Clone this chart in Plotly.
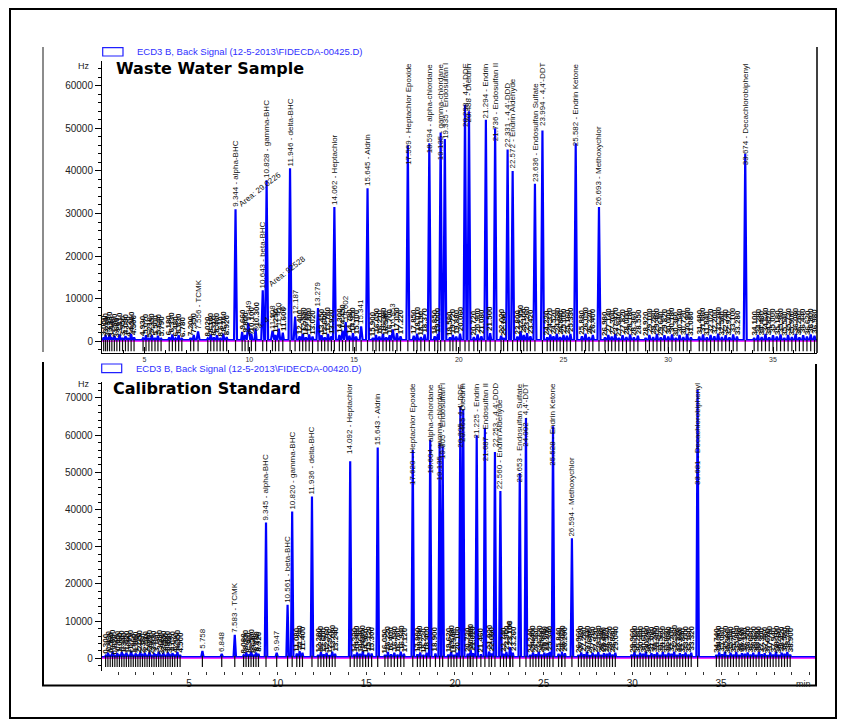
import plotly.graph_objects as go

W, H = 843, 723
FONT = "Liberation Sans, Arial, sans-serif"

# ---------------- Waste Water Sample (top) ----------------
ww_main_t = [7.556, 9.344, 9.949, 10.643, 10.828, 11.108, 11.410, 11.946, 12.187, 13.279,
             14.062, 14.602, 15.341, 15.645, 16.853, 17.569, 18.594, 19.135, 19.335, 20.298,
             20.488, 21.294, 21.736, 22.331, 22.572, 23.636, 23.994, 25.582, 26.693, 33.674]
ww_main_h = [2300, 31000, 4300, 12000, 37800, 2500, 3000, 40600, 5800, 7800,
             31500, 4500, 3500, 35900, 2800, 46000, 46500, 49000, 47500, 55500,
             54000, 52000, 50000, 45000, 40000, 37000, 49500, 46500, 31500, 44000]
ww_main_name = ["TCMK", "alpha-BHC", "", "beta-BHC", "gamma-BHC", "", "", "delta-BHC", "", "",
                "Heptachlor", "", "", "Aldrin", "", "Heptachlor Epoxide", "alpha-chlordane",
                "gamma-chlordane", "Endosulfan I", "4,4'-DDE",
                "Dieldrin", "Endrin", "Endosulfan II", "4,4'-DDD", "Endrin Aldehyde",
                "Endosulfan Sulfate", "4,4'-DDT", "Endrin Ketone", "Methoxychlor", "Decachlorobiphenyl"]

ww_small_t = [3.05, 3.14, 3.23, 3.33, 3.44, 3.56, 3.68, 3.81, 3.95, 4.09, 4.22, 4.36, 4.50,
              4.93, 5.07, 5.21, 5.35, 5.50, 5.64, 5.79,
              6.18, 6.33, 6.48, 6.63, 6.78,
              7.20, 7.35,
              8.02, 8.16, 8.31, 8.46, 8.61, 8.76, 8.92,
              9.66, 9.80, 10.10, 10.30,
              11.25, 11.60,
              12.40, 12.55, 12.70, 12.86, 13.02,
              13.45, 13.60, 13.76, 13.92,
              14.30, 14.45, 14.78, 14.95, 15.10,
              15.90, 16.05, 16.21, 16.38, 16.54, 16.70, 17.05, 17.22,
              17.85, 18.01, 18.19, 18.37,
              18.85, 19.00, 19.58, 19.72, 19.88, 20.06,
              20.72, 20.90, 21.08, 21.50, 22.02, 22.14,
              22.80, 22.95, 23.10, 23.26, 23.42,
              24.22, 24.37, 24.52, 24.68, 24.84, 25.00, 25.16, 25.33,
              25.88, 26.05, 26.22, 26.40,
              26.98, 27.14, 27.30, 27.47, 27.64, 27.82, 28.00, 28.18, 28.36, 28.55,
              28.92, 29.10, 29.28, 29.46, 29.64, 29.82, 30.00, 30.18, 30.36, 30.54, 30.72, 30.90, 31.08,
              31.48, 31.66, 31.84, 32.02, 32.20, 32.38, 32.56, 32.74, 32.92, 33.10, 33.28,
              34.10, 34.28, 34.46, 34.64, 34.82, 35.00, 35.18, 35.36, 35.54, 35.72, 35.90, 36.08,
              36.26, 36.44, 36.62, 36.80, 36.98]
ww_small_h = [900, 1500, 600, 1800, 700, 1300, 500, 1600, 800, 1200, 600, 1700, 900,
              700, 1400, 600, 1500, 800, 1300, 600,
              900, 1600, 700, 1400, 600,
              800, 1500,
              700, 1600, 900, 1400, 600, 1800, 1000,
              2200, 1500, 1800, 3000,
              1500, 2000,
              1200, 1800, 900, 1600, 1100,
              1400, 900, 1700, 1200,
              1500, 2500, 1300, 1900, 1100,
              800, 1500, 1100, 1800, 900, 1400, 1900, 1200,
              1300, 1800, 1000, 1600,
              1200, 1700, 900, 1500, 1100, 1800,
              1000, 1600, 1200, 1900, 1300, 800,
              1100, 2400, 1500, 1900, 1200,
              900, 1600, 1200, 1800, 1000, 1500, 1300, 1700,
              1200, 1800, 1000, 1500,
              900, 1500, 1100, 1700, 800, 1400, 1000, 1600, 900, 1300,
              800, 1500, 1000, 1700, 900, 1400, 1100, 1600, 800, 1500, 1000, 1700, 900,
              1100, 1600, 900, 1500, 1200, 1800, 1000, 1400, 900, 1600, 1100,
              800, 1500, 1000, 1700, 900, 1400, 1100, 1600, 800, 1500, 1000, 1700,
              900, 1400, 1100, 1600, 1300]

# ---------------- Calibration Standard (bottom) ----------------
cal_main_t = [5.758, 6.848, 7.583, 9.345, 9.947, 10.561, 10.820, 11.936, 14.092, 15.643,
              17.620, 18.604, 19.135, 19.305, 20.305, 20.465, 20.853, 21.225, 21.687, 22.253,
              22.560, 23.108, 23.653, 24.002, 25.528, 26.018, 26.594, 33.681]
cal_main_h = [2000, 1200, 6300, 36500, 1500, 14400, 39500, 43500, 53000, 56700,
              56000, 58800, 57900, 57000, 67800, 67000, 1500, 60000, 62000, 55500,
              45000, 3000, 49800, 64600, 62400, 1200, 32300, 72300]
cal_main_name = ["", "", "TCMK", "alpha-BHC", "", "beta-BHC", "gamma-BHC", "delta-BHC",
                 "Heptachlor", "Aldrin", "Heptachlor Epoxide", "alpha-chlordane",
                 "gamma-chlordane", "Endosulfan I", "4,4'-DDE", "Dieldrin", "", "Endrin",
                 "Endosulfan II", "4,4'-DDD", "Endrin Aldehyde", "", "Endosulfan Sulfate",
                 "4,4'-DDT", "Endrin Ketone", "", "Methoxychlor", "Decachlorobiphenyl"]

cal_small_t = [0.30, 0.43, 0.56, 0.69, 0.82, 0.95, 1.08, 1.21, 1.34, 1.47, 1.60, 1.73, 1.86, 1.99, 2.12, 2.25,
               2.38, 2.51, 2.64, 2.77, 2.90, 3.03, 3.16, 3.29, 3.42, 3.55, 3.68, 3.81, 3.94, 4.07, 4.20, 4.35, 4.50,
               8.08, 8.22, 8.36, 8.50, 8.64, 8.78, 8.92,
               11.08, 11.24, 11.40,
               12.28, 12.44, 12.60, 12.76, 12.92, 13.08, 13.24,
               14.32, 14.48, 14.64, 14.80, 14.96, 15.12, 15.30,
               16.05, 16.22, 16.40, 16.58, 16.76, 16.94, 17.12,
               17.88, 18.04, 18.22, 18.40, 18.90,
               19.62, 19.78, 19.94, 20.10, 20.72, 20.88, 21.02, 21.46, 21.92, 22.06,
               22.74, 22.90, 23.10, 23.26,
               24.24, 24.40, 24.56, 24.72, 24.88, 25.04, 25.20, 25.34,
               25.84, 26.02, 26.20,
               26.96, 27.12, 27.28, 27.44, 27.60, 27.76, 27.92, 28.08, 28.24, 28.40, 28.56, 28.72, 28.88, 29.04,
               29.96, 30.12, 30.28, 30.44, 30.60, 30.76, 30.92, 31.08, 31.24, 31.40, 31.56, 31.72, 31.88,
               32.04, 32.20, 32.36, 32.52, 32.68, 32.84, 33.00, 33.16, 33.32,
               34.74, 34.90, 35.06, 35.22, 35.38, 35.54, 35.70, 35.86, 36.02, 36.18, 36.34, 36.50, 36.66,
               36.82, 36.98, 37.14, 37.30, 37.46, 37.62, 37.78, 37.94, 38.10, 38.26, 38.42, 38.58, 38.74, 38.90]
cal_small_h = [700, 1500, 900, 1800, 600, 1400, 1000, 1700, 800, 1500, 900, 1900, 700, 1300, 1000, 1600,
               800, 1500, 900, 1700, 600, 1400, 1100, 1800, 700, 1500, 900, 1600, 800, 1400, 1000, 1700, 900,
               800, 1600, 1000, 1800, 900, 1500, 1200,
               1300, 1900, 1500,
               900, 1700, 1100, 1500, 800, 1800, 1200,
               1000, 1600, 1200, 1900, 900, 1500, 1300,
               900, 1700, 1100, 1500, 1000, 1800, 1200,
               1100, 1600, 900, 1500, 1300,
               1000, 1700, 900, 1500, 1200, 2200, 1400, 1100, 1800, 1300,
               1200, 1700, 3000, 1500,
               900, 1600, 1100, 1800, 1000, 1500, 1300, 1700,
               1200, 1800, 1400,
               900, 1600, 1100, 1800, 800, 1500, 1000, 1700, 900, 1400, 1200, 1600, 1000, 1500,
               1000, 1700, 900, 1500, 1200, 1800, 800, 1400, 1100, 1600, 900, 1700, 1000,
               1500, 1200, 1800, 900, 1400, 1100, 1600, 1000, 1500,
               900, 1600, 1100, 1800, 800, 1500, 1000, 1700, 900, 1400, 1200, 1600, 1000,
               1500, 900, 1700, 1100, 1400, 800, 1600, 1000, 1800, 900, 1500, 1200, 1700, 1000]

x_tick_labels = [5, 10, 15, 20, 25, 30, 35]

legend_top = "ECD3 B, Back Signal (12-5-2013\\FIDECDA-00425.D)"
legend_bot = "ECD3 B, Back Signal (12-5-2013\\FIDECDA-00420.D)"

# ---------------- geometry (pixels) ----------------
TOP_X0, TOP_X1, TOP_Y0, TOP_Y1 = 102, 817, 61, 352.7
BOT_X0, BOT_X1, BOT_Y0, BOT_Y1 = 101.7, 815, 382, 670.7
TOP_XR = [2.97, 37.1]
TOP_YR = [-2676, 65800]
BOT_XR = [0.08, 40.3]
BOT_YR = [-3330, 74300]


def px(x):
    return x / W


def py(y):
    return 1 - y / H


def signal(main_t, main_h, small_t, small_h, xr, base):
    peaks = sorted([(t, h, 0.07) for t, h in zip(main_t, main_h)] +
                   [(t, h, 0.05) for t, h in zip(small_t, small_h)])
    xs, ys = [xr[0]], [base]
    prev = xr[0]
    for t, h, w in peaks:
        left = max(t - w, prev)
        xs += [left, t, t + w]
        ys += [base, h, base]
        prev = t + w
    xs.append(xr[1])
    ys.append(base)
    return xs, ys


fig = go.Figure()
anns = []


def panel(main_t, main_h, names, small_t, small_h, xr, yr, xa, ya, upx, ylim, tickdy):
    xs, ys = signal(main_t, main_h, small_t, small_h, xr, 300)
    fig.add_trace(go.Scatter(x=xs, y=ys, mode="lines", xaxis=xa, yaxis=ya,
                             line=dict(color="#0000ff", width=2.2), hoverinfo="skip"))
    fig.add_trace(go.Scatter(x=[xr[0], xr[1]], y=[0, 0], mode="lines", xaxis=xa, yaxis=ya,
                             line=dict(color="#ff33ff", width=1.6), hoverinfo="skip"))
    allt = list(small_t) + list(main_t)
    fig.add_trace(go.Scatter(x=allt, y=[tickdy] * len(allt), mode="markers", xaxis=xa, yaxis=ya,
                             marker=dict(symbol="line-ns", size=8,
                                         line=dict(width=1.2, color="#111")),
                             hoverinfo="skip"))
    for t, h in zip(small_t, small_h):
        anns.append(dict(x=t, y=h + upx, xref=xa, yref=ya, text=f"<b>{t:.3f}</b>",
                         textangle=-90, showarrow=False, xanchor="center", yanchor="bottom",
                         borderpad=0, font=dict(size=8, color="#111", family=FONT)))
    for t, h, n in zip(main_t, main_h, names):
        txt = f"{t:.3f} - {n}" if n else f"{t:.3f}"
        L = (len(txt) * 4.1 + 2) * upx
        if h + L > ylim:
            yv, yan = ylim, "top"
        else:
            yv, yan = h + upx, "bottom"
        anns.append(dict(x=t, y=yv, xref=xa, yref=ya, text=txt, textangle=-90,
                         showarrow=False, xanchor="center", yanchor=yan, borderpad=0,
                         font=dict(size=8, color="#111", family=FONT)))


upx_top = (TOP_YR[1] - TOP_YR[0]) / (TOP_Y1 - TOP_Y0)
upx_bot = (BOT_YR[1] - BOT_YR[0]) / (BOT_Y1 - BOT_Y0)
panel(ww_main_t, ww_main_h, ww_main_name, ww_small_t, ww_small_h, TOP_XR, TOP_YR,
      "x", "y", upx_top, TOP_YR[1] - 1 * upx_top, -1000)
panel(cal_main_t, cal_main_h, cal_main_name, cal_small_t, cal_small_h, BOT_XR, BOT_YR,
      "x2", "y2", upx_bot, BOT_YR[1] - 0.3 * upx_bot, -800)

tickfont = dict(size=10, color="#222", family=FONT)

# diagonal area annotations (top panel)
for txt, cx, cy in [("Area: 29.0226", 260, 190), ("Area: 92528", 287, 271), ("Area: 4.4105", 266, 320)]:
    anns.append(dict(x=px(cx), y=py(cy), xref="paper", yref="paper", text=txt, textangle=-38,
                     showarrow=False, xanchor="center", yanchor="middle",
                     font=dict(size=8, color="#111", family=FONT)))

# titles, Hz, legends, min
anns += [
    dict(x=px(114), y=py(68), xref="paper", yref="paper", text="<b>Waste Water Sample</b>",
         showarrow=False, xanchor="left", yanchor="middle",
         font=dict(size=16, color="black", family="DejaVu Sans")),
    dict(x=px(111), y=py(388), xref="paper", yref="paper", text="<b>Calibration Standard</b>",
         showarrow=False, xanchor="left", yanchor="middle",
         font=dict(size=16, color="black", family="DejaVu Sans")),
    dict(x=px(92), y=py(66), xref="paper", yref="paper", text="Hz", showarrow=False,
         xanchor="right", yanchor="middle", font=dict(size=9, color="#222", family=FONT)),
    dict(x=px(92), y=py(384), xref="paper", yref="paper", text="Hz", showarrow=False,
         xanchor="right", yanchor="middle", font=dict(size=9, color="#222", family=FONT)),
    dict(x=px(135), y=py(51.5), xref="paper", yref="paper", text=legend_top, showarrow=False,
         xanchor="left", yanchor="middle", font=dict(size=9.5, color="#3030ff", family=FONT)),
    dict(x=px(134), y=py(368.5), xref="paper", yref="paper", text=legend_bot, showarrow=False,
         xanchor="left", yanchor="middle", font=dict(size=9.5, color="#3030ff", family=FONT)),
    dict(x=px(813), y=py(684), xref="paper", yref="paper", text="min", showarrow=False,
         xanchor="right", yanchor="middle", font=dict(size=9, color="#222", family=FONT)),
]


def line(x0, y0, x1, y1, color="black", width=2):
    return dict(type="line", xref="paper", yref="paper", x0=px(x0), y0=py(y0), x1=px(x1), y1=py(y1),
                line=dict(color=color, width=width), layer="above")


shapes = [
    # outer page frame
    dict(type="rect", xref="paper", yref="paper", x0=px(10), x1=px(836), y0=py(718), y1=py(9),
         line=dict(color="black", width=2), fillcolor="rgba(0,0,0,0)", layer="above"),
    line(43, 47, 43, 352, color="#666", width=1.5),
    line(817, 47, 817, 353, color="black", width=1.5),
    line(43, 362, 43, 686, width=2),
    line(42, 685.5, 817, 685.5, width=2),
    line(816, 364, 816, 686, width=2),
    # legend swatches
    dict(type="rect", xref="paper", yref="paper", x0=px(102.7), x1=px(123), y0=py(56), y1=py(47.7),
         line=dict(color="#2020ff", width=1.2), fillcolor="white", layer="above"),
    dict(type="rect", xref="paper", yref="paper", x0=px(101.7), x1=px(121.7), y0=py(372.7), y1=py(364),
         line=dict(color="#2020ff", width=1.2), fillcolor="white", layer="above"),
]

fig.update_layout(
    width=W, height=H, margin=dict(l=0, r=0, t=0, b=0),
    paper_bgcolor="white", plot_bgcolor="white", showlegend=False,
    annotations=anns, shapes=shapes,
    xaxis=dict(domain=[px(TOP_X0), px(TOP_X1)], anchor="y", range=TOP_XR,
               showline=True, linecolor="black", linewidth=1,
               ticks="inside", ticklen=6, tickcolor="black",
               tickmode="array", tickvals=x_tick_labels,
               minor=dict(dtick=1, tick0=0, ticks="inside", ticklen=3, tickcolor="black"),
               tickfont=dict(size=7, color="#333", family=FONT),
               showgrid=False, zeroline=False),
    yaxis=dict(domain=[py(TOP_Y1), py(TOP_Y0)], anchor="x", range=TOP_YR,
               showline=True, linecolor="black", linewidth=1,
               ticks="outside", ticklen=6, tickcolor="black", tick0=0, dtick=10000,
               tickformat="d",
               minor=dict(dtick=2000, ticks="outside", ticklen=3, tickcolor="black"),
               tickfont=tickfont, showgrid=False, zeroline=False),
    xaxis2=dict(domain=[px(BOT_X0), px(BOT_X1)], anchor="y2", range=BOT_XR,
                showline=False, ticks="outside", ticklen=3, tickcolor="#333",
                tickmode="array", tickvals=x_tick_labels,
                minor=dict(dtick=1, tick0=0, ticks="outside", ticklen=3, tickcolor="#333"),
                tickfont=tickfont, showgrid=False, zeroline=False),
    yaxis2=dict(domain=[py(BOT_Y1), py(BOT_Y0)], anchor="x2", range=BOT_YR,
                showline=True, linecolor="black", linewidth=1,
                ticks="outside", ticklen=6, tickcolor="black", tick0=0, dtick=10000,
                tickformat="d",
                minor=dict(dtick=2000, ticks="outside", ticklen=3, tickcolor="black"),
                tickfont=tickfont, showgrid=False, zeroline=False),
)

fig.write_html("out.html", config={"displayModeBar": False, "staticPlot": True},
               post_script="document.body.style.margin='0px';document.body.style.overflow='hidden';")
